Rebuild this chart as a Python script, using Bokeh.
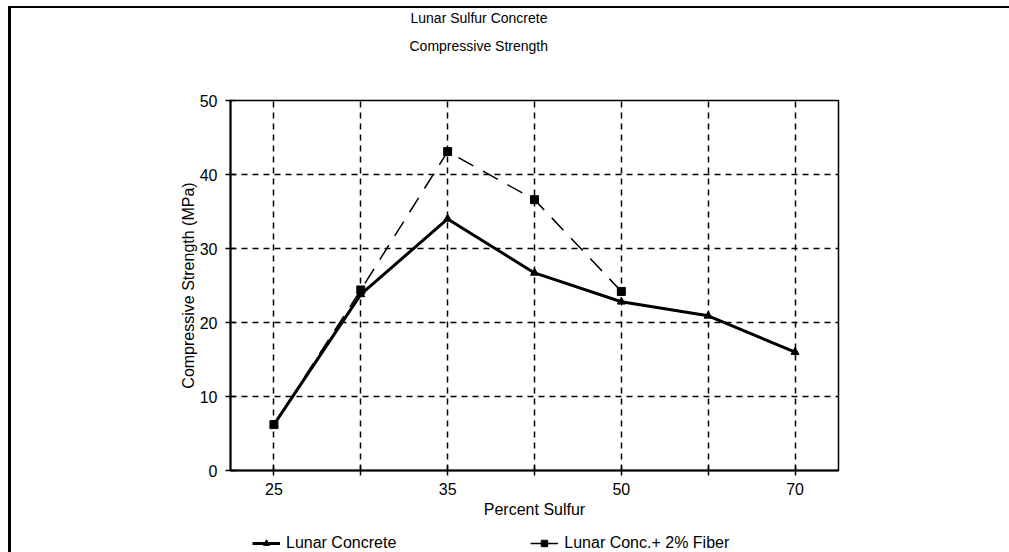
import math
from bokeh.plotting import figure
from bokeh.layouts import column
from bokeh.models import (Legend, LegendItem, FactorRange, Range1d, FixedTicker,
                          Title, CustomJSTickFormatter)
from bokeh.embed import file_html
from bokeh.resources import INLINE

# ---- data ----
categories = ["25", "30", "35", "40", "50", "60", "70"]
hidden_labels = ["30", "40", "60"]
lunar_concrete = [6.2, 23.8, 34.0, 26.7, 22.8, 20.9, 16.0]
lunar_fiber = [6.2, 24.4, 43.1, 36.6, 24.2, math.nan, math.nan]
y_ticks = [0, 10, 20, 30, 40, 50]
title_lines = ["Lunar Sulfur Concrete", "Compressive Strength"]
series_names = ["Lunar Concrete", "Lunar Conc.+ 2% Fiber"]

FONT = "Liberation Sans"
W, H_MAIN, H_LEG = 1009, 522, 30

p = figure(width=W, height=H_MAIN, title=None,
           x_range=FactorRange(*categories, range_padding=0),
           y_range=Range1d(0, 50),
           output_backend="svg", toolbar_location=None,
           min_border_left=230, min_border_right=171,
           min_border_top=100, min_border_bottom=52)

p.background_fill_color = "white"
p.border_fill_color = None
p.outline_line_color = "black"
p.outline_line_width = 1.5

# grids
for g in (p.xgrid, p.ygrid):
    g.grid_line_color = "black"
    g.grid_line_dash = "6 5"
    g.grid_line_width = 1.5

# axes
p.yaxis.ticker = FixedTicker(ticks=y_ticks)
p.xaxis.formatter = CustomJSTickFormatter(
    args=dict(hidden=hidden_labels),
    code="return hidden.includes(tick) ? '' : tick;")
for ax in (p.xaxis, p.yaxis):
    ax.axis_line_color = "black"
    ax.axis_line_width = 2
    ax.major_tick_line_color = "black"
    ax.major_tick_line_width = 1.5
    ax.major_tick_in = 5
    ax.major_tick_out = 5
    ax.minor_tick_line_color = None
    ax.major_label_text_font = FONT
    ax.major_label_text_font_size = "16px"
    ax.major_label_text_color = "black"
    ax.axis_label_text_font = FONT
    ax.axis_label_text_font_size = "16px"
    ax.axis_label_text_font_style = "normal"
    ax.axis_label_text_color = "black"
p.xaxis.axis_label = "Percent Sulfur"
p.yaxis.axis_label = "Compressive Strength (MPa)"
p.xaxis.major_label_standoff = 7
p.xaxis.axis_label_standoff = 3
p.yaxis.major_label_standoff = 8
p.yaxis.axis_label_standoff = 0

# series
l1_style = dict(line_color="black", line_width=3)
l2_style = dict(line_color="black", line_width=1.5, line_dash="17 11")
m1_style = dict(marker="triangle", size=8, fill_color="black", line_color="black")
m2_style = dict(marker="square", size=8, fill_color="black", line_color="black")
p.line(categories, lunar_concrete, **l1_style)
p.scatter(categories, lunar_concrete, **m1_style)
p.line(categories, lunar_fiber, **l2_style)
p.scatter(categories, lunar_fiber, **m2_style)

# title (spacer first = closest to the frame, then lines outward)
p.add_layout(Title(text=" ", text_font_size="26px"), "above")
p.add_layout(Title(text=title_lines[1], align="left", offset=179,
                   text_font=FONT, text_font_size="14px",
                   text_font_style="normal", text_color="black"), "above")
p.add_layout(Title(text=title_lines[0], align="left", offset=180,
                   text_font=FONT, text_font_size="14px",
                   text_font_style="normal", text_color="black"), "above")

# legend strip below the chart (same series, out of its visible y range)
lf = figure(width=W, height=H_LEG,
            x_range=FactorRange(*categories, range_padding=0),
            y_range=Range1d(-2, -1),
            output_backend="svg", toolbar_location=None,
            min_border=0, min_border_left=0, min_border_right=0,
            min_border_top=0, min_border_bottom=0)
lf.axis.visible = False
lf.grid.visible = False
lf.outline_line_color = None
lf.background_fill_color = None
lf.border_fill_color = None
r1 = [lf.line(categories, lunar_concrete, **l1_style),
      lf.scatter(categories, lunar_concrete, **m1_style)]
r2 = [lf.line(categories, lunar_fiber, line_color="black", line_width=1.5),
      lf.scatter(categories, lunar_fiber, **m2_style)]
legend = Legend(items=[LegendItem(label=series_names[0], renderers=r1),
                       LegendItem(label=series_names[1], renderers=r2)],
                orientation="horizontal", location=(22, 0),
                padding=0, margin=0, spacing=134,
                glyph_width=28, glyph_height=16, label_standoff=6,
                label_text_font=FONT, label_text_font_size="16px",
                label_text_color="black",
                border_line_color=None, background_fill_alpha=0)
lf.add_layout(legend, "center")

page = column(p, lf, spacing=0)
page.styles = {"box-shadow": "inset 8px 6px 0 0 white, inset 11px 8px 0 0 black"}

open("out.html", "w").write(file_html(page, INLINE))
